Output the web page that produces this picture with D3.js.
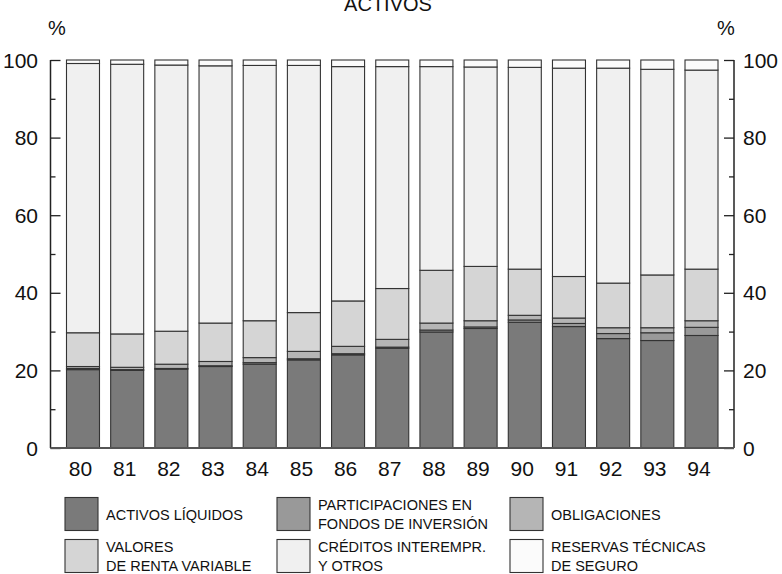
<!DOCTYPE html>
<html><head><meta charset="utf-8">
<script src="https://cdn.jsdelivr.net/npm/d3@7"></script>
<style>body{margin:0;background:#fff}svg{display:block}text{font-family:"Liberation Sans",Arial,sans-serif;fill:#111}</style>
</head><body><svg id="c" width="782" height="574"></svg>
<script>
const years = ["80","81","82","83","84","85","86","87","88","89","90","91","92","93","94"];
const activosLiquidos = [20.2,20.0,20.3,21.0,21.6,22.7,24.0,25.7,29.9,30.8,32.4,31.3,28.2,27.7,29.0];
const participaciones = [0.3,0.2,0.2,0.2,0.4,0.3,0.3,0.3,0.5,0.4,0.6,0.8,1.3,2.0,2.1];
const obligaciones = [0.5,0.6,1.1,1.1,1.3,1.9,1.9,2.0,1.8,1.6,1.2,1.4,1.5,1.3,1.7];
const valoresRV = [8.7,8.6,8.5,9.9,9.5,10.0,11.7,13.1,13.6,14.0,11.9,10.7,11.5,13.6,13.3];
const creditos = [69.4,69.5,68.6,66.3,65.8,63.7,60.4,57.2,52.5,51.4,52.0,53.7,55.4,53.0,51.3];
const reservas = [0.9,1.1,1.3,1.5,1.4,1.4,1.7,1.7,1.7,1.8,1.9,2.1,2.1,2.4,2.6];
const seriesNames = [["ACTIVOS LÍQUIDOS"],["PARTICIPACIONES EN","FONDOS DE INVERSIÓN"],["OBLIGACIONES"],["VALORES","DE RENTA VARIABLE"],["CRÉDITOS INTEREMPR.","Y OTROS"],["RESERVAS TÉCNICAS","DE SEGURO"]];
const yTicks = [0,20,40,60,80,100];
const yMinor = [10,30,50,70,90];
const title = "ACTIVOS";

const colors = ["#7a7a7a","#999999","#b5b5b5","#d5d5d5","#f0f0f0","#fbfbfb"];
const allSeries = [activosLiquidos,participaciones,obligaciones,valoresRV,creditos,reservas];
const keys = d3.range(allSeries.length);
const table = years.map((y,i)=>{const o={year:y};keys.forEach(k=>o[k]=allSeries[k][i]);return o;});
const stacked = d3.stack().keys(keys)(table);

const svg = d3.select("#c");
const L=50.5, R=734, T=60, B=448;
const x = d3.scaleBand().domain(years).range([L,R]).paddingInner(0.253).paddingOuter(0.362);
const y = d3.scaleLinear().domain([0,100]).range([B,T]);

// bars
stacked.forEach((s,k)=>{
  svg.append("g").selectAll("rect").data(s).join("rect")
    .attr("x",d=>x(d.data.year)).attr("width",x.bandwidth())
    .attr("y",d=>y(d[1])).attr("height",d=>y(d[0])-y(d[1]))
    .attr("fill",colors[k]).attr("stroke","#333").attr("stroke-width",1.1);
});

// axes
const axisColor="#222";
const la = svg.append("g").attr("transform",`translate(${L},0)`).call(d3.axisRight(y).tickValues(yTicks).tickSize(10).tickFormat(""));
const lm = svg.append("g").attr("transform",`translate(${L},0)`).call(d3.axisRight(y).tickValues(yMinor).tickSize(5).tickFormat(""));
const ra = svg.append("g").attr("transform",`translate(${R},0)`).call(d3.axisLeft(y).tickValues(yTicks).tickSize(10).tickFormat(""));
const rm = svg.append("g").attr("transform",`translate(${R},0)`).call(d3.axisLeft(y).tickValues(yMinor).tickSize(5).tickFormat(""));
[la,lm,ra,rm].forEach(g=>{g.select(".domain").remove();g.selectAll("line").attr("stroke",axisColor).attr("stroke-width",1.3);});
svg.append("line").attr("x1",L).attr("x2",L).attr("y1",T).attr("y2",B).attr("stroke",axisColor).attr("stroke-width",1.5);
svg.append("line").attr("x1",R).attr("x2",R).attr("y1",T).attr("y2",B).attr("stroke",axisColor).attr("stroke-width",1.5);
svg.append("line").attr("x1",L).attr("x2",R).attr("y1",B).attr("y2",B).attr("stroke","#555").attr("stroke-width",2);

// tick labels
svg.append("g").selectAll("text").data(yTicks).join("text")
  .attr("x",38).attr("y",d=>y(d)+7.5).attr("text-anchor","end").attr("font-size",21).text(d=>d);
svg.append("g").selectAll("text").data(yTicks).join("text")
  .attr("x",743).attr("y",d=>y(d)+7.5).attr("text-anchor","start").attr("font-size",21).text(d=>d);
svg.append("g").selectAll("text").data(years).join("text")
  .attr("x",d=>x(d)+x.bandwidth()/2-2.5).attr("y",476).attr("text-anchor","middle").attr("font-size",21).text(d=>d);

// title and units
svg.append("text").attr("x",388).attr("y",11).attr("text-anchor","middle").attr("font-size",20).text(title);
svg.append("text").attr("x",57).attr("y",35).attr("text-anchor","middle").attr("font-size",20).text("%");
svg.append("text").attr("x",726).attr("y",35).attr("text-anchor","middle").attr("font-size",20).text("%");

// legend
const colX=[65,277,510], rowY=[497.5,539.5], sw=33;
seriesNames.forEach((lines,k)=>{
  const c=k%3, r=Math.floor(k/3);
  const g=svg.append("g");
  g.append("rect").attr("x",colX[c]).attr("y",rowY[r]).attr("width",sw).attr("height",sw)
    .attr("fill",colors[k]).attr("stroke","#333").attr("stroke-width",1.1);
  const cy=rowY[r]+sw/2;
  const lh=18.5;
  lines.forEach((t,i)=>{
    const off=(i-(lines.length-1)/2)*lh;
    g.append("text").attr("x",colX[c]+sw+8).attr("y",cy+off+5.5).attr("font-size",14.5)
      .attr("textLength",null).text(t);
  });
});
</script></body></html>
